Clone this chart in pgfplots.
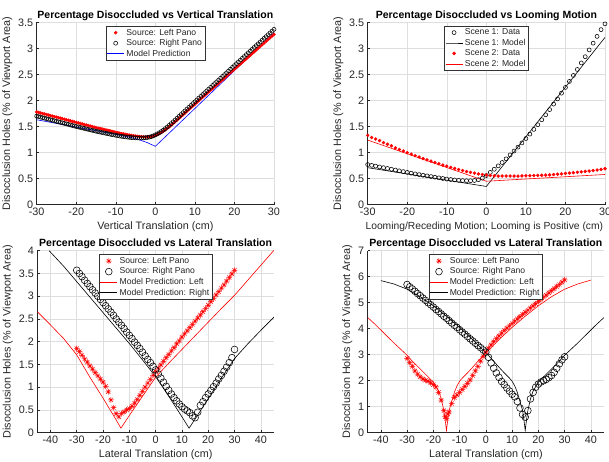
\documentclass[border=0pt]{standalone}
\usepackage{pgfplots}
\pgfplotsset{compat=1.18}
\usepackage{fontspec}
\setmainfont{Liberation Sans}
\pgfdeclareplotmark{ast8}{%
 \pgfpathmoveto{\pgfqpoint{-\pgfplotmarksize}{0pt}}\pgfpathlineto{\pgfqpoint{\pgfplotmarksize}{0pt}}%
 \pgfpathmoveto{\pgfqpoint{0pt}{-\pgfplotmarksize}}\pgfpathlineto{\pgfqpoint{0pt}{\pgfplotmarksize}}%
 \pgfpathmoveto{\pgfqpoint{-.707\pgfplotmarksize}{-.707\pgfplotmarksize}}\pgfpathlineto{\pgfqpoint{.707\pgfplotmarksize}{.707\pgfplotmarksize}}%
 \pgfpathmoveto{\pgfqpoint{-.707\pgfplotmarksize}{.707\pgfplotmarksize}}\pgfpathlineto{\pgfqpoint{.707\pgfplotmarksize}{-.707\pgfplotmarksize}}%
 \pgfusepathqstroke}
\pgfplotsset{mstyle/.style={scale only axis, width=237.3pt, height=182.4pt, anchor=south west,
  axis lines*=left, axis line style={-, black!85, line width=0.5pt},
  tick align=inside, major tick length=2.5pt, tick style={black!85, line width=0.5pt},
  grid=major, major grid style={black!13, line width=0.5pt},
  tick label style={font=\fontsize{10.8}{12}\selectfont, text=black!85},
  label style={font=\fontsize{10.8}{12}\selectfont, text=black!85},
  xlabel style={yshift=1pt},
  ylabel style={yshift=-1pt},
  title style={font=\bfseries\fontsize{10.5}{12}\selectfont, yshift=-8pt},
  /pgf/number format/assume math mode=true,
  legend cell align=left,
  legend style={at={(0.5,0.982)}, anchor=north, draw=black!80, line width=0.5pt, fill=white,
    font=\fontsize{8.6}{10}\selectfont, inner sep=1pt, row sep=-1.2pt, text=black!85},
  ylabel={Disocclusion Holes (\% of Viewport Area)}},
 rdot/.style={only marks, mark=*, mark size=1.5pt, draw=red, fill=red},
 bcirc/.style={only marks, mark=o, mark size=2pt, draw=black, line width=0.55pt},
 rast/.style={only marks, mark=ast8, mark size=2.9pt, draw=red, line width=0.5pt},
 bbig/.style={only marks, mark=o, mark size=3.4pt, draw=black, line width=0.55pt}}
\begin{document}
\begin{tikzpicture}
\useasboundingbox (0,0) rectangle (609pt,461pt);
% ---------------- top left
\begin{axis}[mstyle, at={(36.7pt,256.3pt)}, xmin=-30, xmax=30, ymin=0, ymax=3.5,
  xtick={-30,-20,...,30}, ytick={0,0.5,...,3.5},
  title={Percentage Disoccluded vs Vertical Translation}, xlabel={Vertical Translation (cm)}]
\addplot[rdot] coordinates {(-30,1.780)(-29.5,1.770)(-29,1.760)(-28.5,1.750)(-28,1.740)(-27.5,1.730)(-27,1.720)(-26.5,1.710)(-26,1.700)(-25.5,1.690)(-25,1.680)(-24.5,1.670)(-24,1.660)(-23.5,1.650)(-23,1.640)(-22.5,1.630)(-22,1.620)(-21.5,1.610)(-21,1.600)(-20.5,1.590)(-20,1.580)(-19.5,1.570)(-19,1.560)(-18.5,1.550)(-18,1.540)(-17.5,1.530)(-17,1.520)(-16.5,1.510)(-16,1.500)(-15.5,1.490)(-15,1.480)(-14.5,1.471)(-14,1.462)(-13.5,1.453)(-13,1.444)(-12.5,1.435)(-12,1.426)(-11.5,1.417)(-11,1.408)(-10.5,1.399)(-10,1.390)(-9.5,1.381)(-9,1.373)(-8.5,1.365)(-8,1.357)(-7.5,1.349)(-7,1.342)(-6.5,1.335)(-6,1.328)(-5.5,1.322)(-5,1.317)(-4.5,1.312)(-4,1.308)(-3.5,1.305)(-3,1.302)(-2.5,1.300)(-2,1.300)(-1.5,1.303)(-1,1.308)(-0.5,1.317)(0,1.330)(0.5,1.346)(1,1.365)(1.5,1.386)(2,1.410)(2.5,1.436)(3,1.465)(3.5,1.494)(4,1.525)(4.5,1.557)(5,1.590)(5.5,1.624)(6,1.658)(6.5,1.692)(7,1.726)(7.5,1.760)(8,1.794)(8.5,1.828)(9,1.862)(9.5,1.896)(10,1.930)(10.5,1.964)(11,1.997)(11.5,2.031)(12,2.064)(12.5,2.098)(13,2.131)(13.5,2.165)(14,2.198)(14.5,2.232)(15,2.265)(15.5,2.299)(16,2.332)(16.5,2.366)(17,2.399)(17.5,2.433)(18,2.466)(18.5,2.500)(19,2.533)(19.5,2.567)(20,2.600)(20.5,2.634)(21,2.667)(21.5,2.701)(22,2.734)(22.5,2.768)(23,2.801)(23.5,2.835)(24,2.868)(24.5,2.902)(25,2.935)(25.5,2.969)(26,3.002)(26.5,3.036)(27,3.069)(27.5,3.103)(28,3.136)(28.5,3.170)(29,3.203)(29.5,3.237)(30,3.270)};
\addlegendentry{Source: Left Pano}
\addplot[bcirc] coordinates {(-30,1.700)(-29.5,1.690)(-29,1.680)(-28.5,1.670)(-28,1.660)(-27.5,1.650)(-27,1.640)(-26.5,1.630)(-26,1.620)(-25.5,1.610)(-25,1.600)(-24.5,1.590)(-24,1.580)(-23.5,1.570)(-23,1.560)(-22.5,1.550)(-22,1.540)(-21.5,1.530)(-21,1.520)(-20.5,1.510)(-20,1.500)(-19.5,1.491)(-19,1.482)(-18.5,1.473)(-18,1.464)(-17.5,1.455)(-17,1.446)(-16.5,1.437)(-16,1.428)(-15.5,1.419)(-15,1.410)(-14.5,1.402)(-14,1.394)(-13.5,1.386)(-13,1.378)(-12.5,1.370)(-12,1.362)(-11.5,1.354)(-11,1.346)(-10.5,1.339)(-10,1.332)(-9.5,1.325)(-9,1.318)(-8.5,1.312)(-8,1.306)(-7.5,1.301)(-7,1.296)(-6.5,1.292)(-6,1.288)(-5.5,1.285)(-5,1.282)(-4.5,1.281)(-4,1.280)(-3.5,1.281)(-3,1.282)(-2.5,1.285)(-2,1.290)(-1.5,1.298)(-1,1.308)(-0.5,1.322)(0,1.340)(0.5,1.359)(1,1.380)(1.5,1.404)(2,1.430)(2.5,1.459)(3,1.490)(3.5,1.522)(4,1.555)(4.5,1.590)(5,1.625)(5.5,1.660)(6,1.695)(6.5,1.730)(7,1.765)(7.5,1.800)(8,1.835)(8.5,1.870)(9,1.905)(9.5,1.940)(10,1.975)(10.5,2.010)(11,2.045)(11.5,2.080)(12,2.114)(12.5,2.149)(13,2.184)(13.5,2.219)(14,2.253)(14.5,2.288)(15,2.323)(15.5,2.358)(16,2.392)(16.5,2.427)(17,2.462)(17.5,2.497)(18,2.531)(18.5,2.566)(19,2.601)(19.5,2.636)(20,2.670)(20.5,2.705)(21,2.740)(21.5,2.775)(22,2.809)(22.5,2.844)(23,2.879)(23.5,2.914)(24,2.948)(24.5,2.983)(25,3.018)(25.5,3.053)(26,3.087)(26.5,3.122)(27,3.157)(27.5,3.192)(28,3.226)(28.5,3.261)(29,3.296)(29.5,3.331)(30,3.365)};
\addlegendentry{Source: Right Pano}
\addplot[blue, line width=0.6pt, mark=none] coordinates {(-30,1.63)(-25,1.56)(-20,1.49)(-15,1.42)(-10,1.35)(-5,1.27)(-2,1.19)(0,1.12)(30,3.30)};
\addlegendentry{Model Prediction}
\end{axis}
% ---------------- top right
\begin{axis}[mstyle, at={(367.7pt,256.3pt)}, xmin=-30, xmax=30, ymin=0, ymax=3.5,
  xtick={-30,-20,...,30}, ytick={0,0.5,...,3.5},
  xlabel style={font=\fontsize{10.3}{12}\selectfont, xshift=-2pt},
  title={Percentage Disoccluded vs Looming Motion}, xlabel={Looming/Receding Motion; Looming is Positive (cm)}]
\addplot[bcirc] coordinates {(-30,0.77)(-29,0.755)(-28,0.74)(-27,0.725)(-26,0.71)(-25,0.695)(-24,0.68)(-23,0.665)(-22,0.65)(-21,0.635)(-20,0.62)(-19,0.605)(-18,0.59)(-17,0.578)(-16,0.565)(-15,0.553)(-14,0.54)(-13,0.528)(-12,0.515)(-11,0.503)(-10,0.492)(-9,0.483)(-8,0.475)(-7,0.468)(-6,0.463)(-5,0.46)(-4,0.46)(-3,0.465)(-2,0.48)(-1,0.51)(0,0.56)(1,0.62)(2,0.68)(3,0.745)(4,0.81)(5,0.88)(6,0.955)(7,1.03)(8,1.105)(9,1.185)(10,1.27)(11,1.355)(12,1.445)(13,1.535)(14,1.63)(15,1.725)(16,1.825)(17,1.93)(18,2.03)(19,2.14)(20,2.25)(21,2.365)(22,2.48)(23,2.595)(24,2.72)(25,2.84)(26,2.97)(27,3.10)(28,3.23)(29,3.36)(30,3.47)};
\addlegendentry{Scene 1: Data}
\addplot[black, line width=0.6pt, mark=none] coordinates {(-30,0.71)(0,0.35)(30,3.21)};
\addlegendentry{Scene 1: Model}
\addplot[rdot] coordinates {(-30,1.33)(-29,1.29)(-28,1.26)(-27,1.23)(-26,1.19)(-25,1.16)(-24,1.13)(-23,1.09)(-22,1.06)(-21,1.03)(-20,1.00)(-19,0.97)(-18,0.94)(-17,0.915)(-16,0.885)(-15,0.86)(-14,0.835)(-13,0.81)(-12,0.785)(-11,0.76)(-10,0.74)(-9,0.715)(-8,0.695)(-7,0.675)(-6,0.655)(-5,0.635)(-4,0.62)(-3,0.605)(-2,0.59)(-1,0.58)(0,0.57)(1,0.56)(2,0.555)(3,0.55)(4,0.55)(5,0.55)(6,0.55)(7,0.55)(8,0.55)(9,0.552)(10,0.555)(11,0.557)(12,0.56)(13,0.562)(14,0.565)(15,0.568)(16,0.572)(17,0.578)(18,0.585)(19,0.592)(20,0.60)(21,0.607)(22,0.615)(23,0.622)(24,0.63)(25,0.638)(26,0.646)(27,0.655)(28,0.665)(29,0.677)(30,0.69)};
\addlegendentry{Scene 2: Data}
\addplot[red, line width=0.6pt, mark=none] coordinates {(-30,1.24)(0,0.45)(30,0.58)};
\addlegendentry{Scene 2: Model}
\end{axis}
% ---------------- bottom left
\begin{axis}[mstyle, at={(37.3pt,28.3pt)}, width=236.7pt, height=182pt, xmin=-45, xmax=45, ymin=0, ymax=4,
  xtick={-40,-30,...,40}, ytick={0,0.5,...,4},
  title={Percentage Disoccluded vs Lateral Translation}, xlabel={Lateral Translation (cm)}]
\addplot[rast] coordinates {(-30,1.85)(-29,1.78)(-28,1.70)(-27,1.62)(-26,1.55)(-25,1.47)(-24,1.40)(-23,1.32)(-22,1.25)(-21,1.18)(-20,1.11)(-19,1.02)(-18,0.90)(-17,0.72)(-16,0.55)(-15,0.42)(-14,0.35)(-13,0.42)(-12,0.46)(-11,0.50)(-10,0.53)(-9,0.58)(-8,0.65)(-7,0.73)(-6,0.82)(-5,0.91)(-4,1.0)(-3,1.09)(-2,1.17)(-1,1.26)(0,1.34)(1,1.42)(2,1.49)(3,1.57)(4,1.65)(5,1.72)(6,1.80)(7,1.87)(8,1.95)(9,2.02)(10,2.10)(11,2.17)(12,2.24)(13,2.31)(14,2.38)(15,2.45)(16,2.52)(17,2.59)(18,2.66)(19,2.73)(20,2.80)(21,2.88)(22,2.95)(23,3.03)(24,3.10)(25,3.18)(26,3.25)(27,3.33)(28,3.41)(29,3.49)(30,3.57)};
\addlegendentry{Source: Left Pano}
\addplot[bbig] coordinates {(-30,3.57)(-29,3.50)(-28,3.43)(-27,3.35)(-26,3.28)(-25,3.21)(-24,3.14)(-23,3.07)(-22,3.00)(-21,2.93)(-20,2.86)(-19,2.79)(-18,2.72)(-17,2.65)(-16,2.58)(-15,2.50)(-14,2.43)(-13,2.36)(-12,2.29)(-11,2.21)(-10,2.14)(-9,2.07)(-8,1.99)(-7,1.92)(-6,1.85)(-5,1.77)(-4,1.69)(-3,1.61)(-2,1.54)(-1,1.46)(0,1.38)(1,1.29)(2,1.20)(3,1.11)(4,1.02)(5,0.93)(6,0.85)(7,0.77)(8,0.70)(9,0.63)(10,0.57)(11,0.52)(12,0.48)(13,0.44)(14,0.37)(15,0.33)(16,0.45)(17,0.60)(18,0.68)(19,0.77)(20,0.85)(21,0.93)(22,1.01)(23,1.09)(24,1.18)(25,1.26)(26,1.35)(27,1.44)(28,1.54)(29,1.65)(30,1.83)};
\addlegendentry{Source: Right Pano}
\addplot[red, line width=0.6pt, mark=none] coordinates {(-45,2.66)(-40,2.37)(-35,2.07)(-30,1.71)(-25,1.22)(-20,0.76)(-15,0.28)(-13.2,0.1)(-10,0.38)(-5,0.80)(0,1.22)(5,1.53)(10,1.83)(15,2.13)(20,2.43)(25,2.73)(30,3.02)(35,3.35)(40,3.68)(45,4.01)};
\addlegendentry{Model Prediction: Left}
\addplot[black, line width=0.6pt, mark=none] coordinates {(-40.5,4.0)(-35,3.66)(-30,3.32)(-25,2.98)(-20,2.64)(-15,2.30)(-10,1.96)(-5,1.60)(0,1.23)(5,0.80)(10,0.35)(12.7,0.1)(15,0.30)(20,0.75)(25,1.20)(30,1.63)(35,1.95)(40,2.25)(45,2.54)};
\addlegendentry{Model Prediction: Right}
\end{axis}
% ---------------- bottom right
\begin{axis}[mstyle, at={(367.7pt,28.3pt)}, width=236.3pt, height=182pt, xmin=-45, xmax=45, ymin=0, ymax=7,
  xtick={-40,-30,...,40}, ytick={0,1,...,7},
  title={Percentage Disoccluded vs Lateral Translation}, xlabel={Lateral Translation (cm)}]
\addplot[rast] coordinates {(-30,2.86)(-29,2.7)(-28,2.55)(-27,2.38)(-26,2.25)(-25,2.15)(-24,2.07)(-23,2.02)(-22,1.98)(-21,1.92)(-20,1.85)(-19,1.76)(-18,1.55)(-17,1.25)(-16,0.85)(-15.5,0.62)(-15,0.55)(-14.5,0.72)(-14,0.8)(-13,1.12)(-12,1.35)(-11,1.45)(-10,1.55)(-9,1.66)(-8,1.78)(-7,1.9)(-6,2.03)(-5,2.2)(-4,2.38)(-3,2.55)(-2,2.75)(-1,2.93)(0,3.1)(1,3.25)(2,3.38)(3,3.5)(4,3.62)(5,3.72)(6,3.83)(7,3.93)(8,4.02)(9,4.11)(10,4.2)(11,4.29)(12,4.38)(13,4.46)(14,4.55)(15,4.63)(16,4.71)(17,4.8)(18,4.88)(19,4.96)(20,5.05)(21,5.13)(22,5.21)(23,5.29)(24,5.38)(25,5.46)(26,5.54)(27,5.62)(28,5.7)(29,5.79)(30,5.88)};
\addlegendentry{Source: Left Pano}
\addplot[bbig] coordinates {(-30,5.70)(-29,5.61)(-28,5.53)(-27,5.44)(-26,5.35)(-25,5.27)(-24,5.18)(-23,5.09)(-22,5.0)(-21,4.92)(-20,4.83)(-19,4.74)(-18,4.66)(-17,4.57)(-16,4.48)(-15,4.4)(-14,4.31)(-13,4.22)(-12,4.13)(-11,4.05)(-10,3.96)(-9,3.87)(-8,3.79)(-7,3.7)(-6,3.61)(-5,3.53)(-4,3.44)(-3,3.35)(-2,3.27)(-1,3.18)(0,3.1)(1,2.9)(2,2.68)(3,2.48)(4,2.3)(5,2.13)(6,1.97)(7,1.85)(8,1.72)(9,1.6)(10,1.48)(11,1.38)(12,1.2)(13,0.95)(14,0.7)(15,0.6)(16,0.85)(17,1.3)(18,1.55)(19,1.75)(20,1.87)(21,1.95)(22,2.0)(23,2.05)(24,2.12)(25,2.2)(26,2.32)(27,2.48)(28,2.65)(29,2.8)(30,2.92)};
\addlegendentry{Source: Right Pano}
\addplot[red, line width=0.6pt, mark=none] coordinates {(-45,4.43)(-42,4.15)(-40,3.95)(-35,3.45)(-30,2.98)(-28,2.75)(-25,2.45)(-22,2.15)(-20,1.95)(-18,1.6)(-17,1.3)(-16,0.85)(-15.5,0.5)(-15,0.08)(-14.5,0.5)(-14,0.85)(-13,1.2)(-12,1.55)(-11,1.8)(-10,1.98)(-9,2.1)(-7,2.3)(-5,2.52)(-3,2.75)(-1,2.97)(0,3.07)(2,3.27)(5,3.58)(10,4.05)(15,4.48)(20,4.88)(25,5.23)(30,5.52)(35,5.72)(40,5.87)};
\addlegendentry{Model Prediction: Left}
\addplot[black, line width=0.6pt, mark=none] coordinates {(-40,5.85)(-35,5.72)(-30,5.52)(-25,5.23)(-20,4.88)(-15,4.48)(-10,4.05)(-5,3.58)(-2,3.27)(0,3.07)(1,2.97)(3,2.75)(5,2.52)(7,2.3)(9,2.1)(10,1.98)(11,1.8)(12,1.55)(13,1.2)(14,0.85)(14.5,0.5)(15,0.08)(15.5,0.5)(16,0.85)(17,1.3)(18,1.6)(20,1.95)(22,2.15)(25,2.45)(28,2.75)(30,2.98)(35,3.45)(40,3.95)(42,4.15)(45,4.43)};
\addlegendentry{Model Prediction: Right}
\end{axis}
\end{tikzpicture}
\end{document}
